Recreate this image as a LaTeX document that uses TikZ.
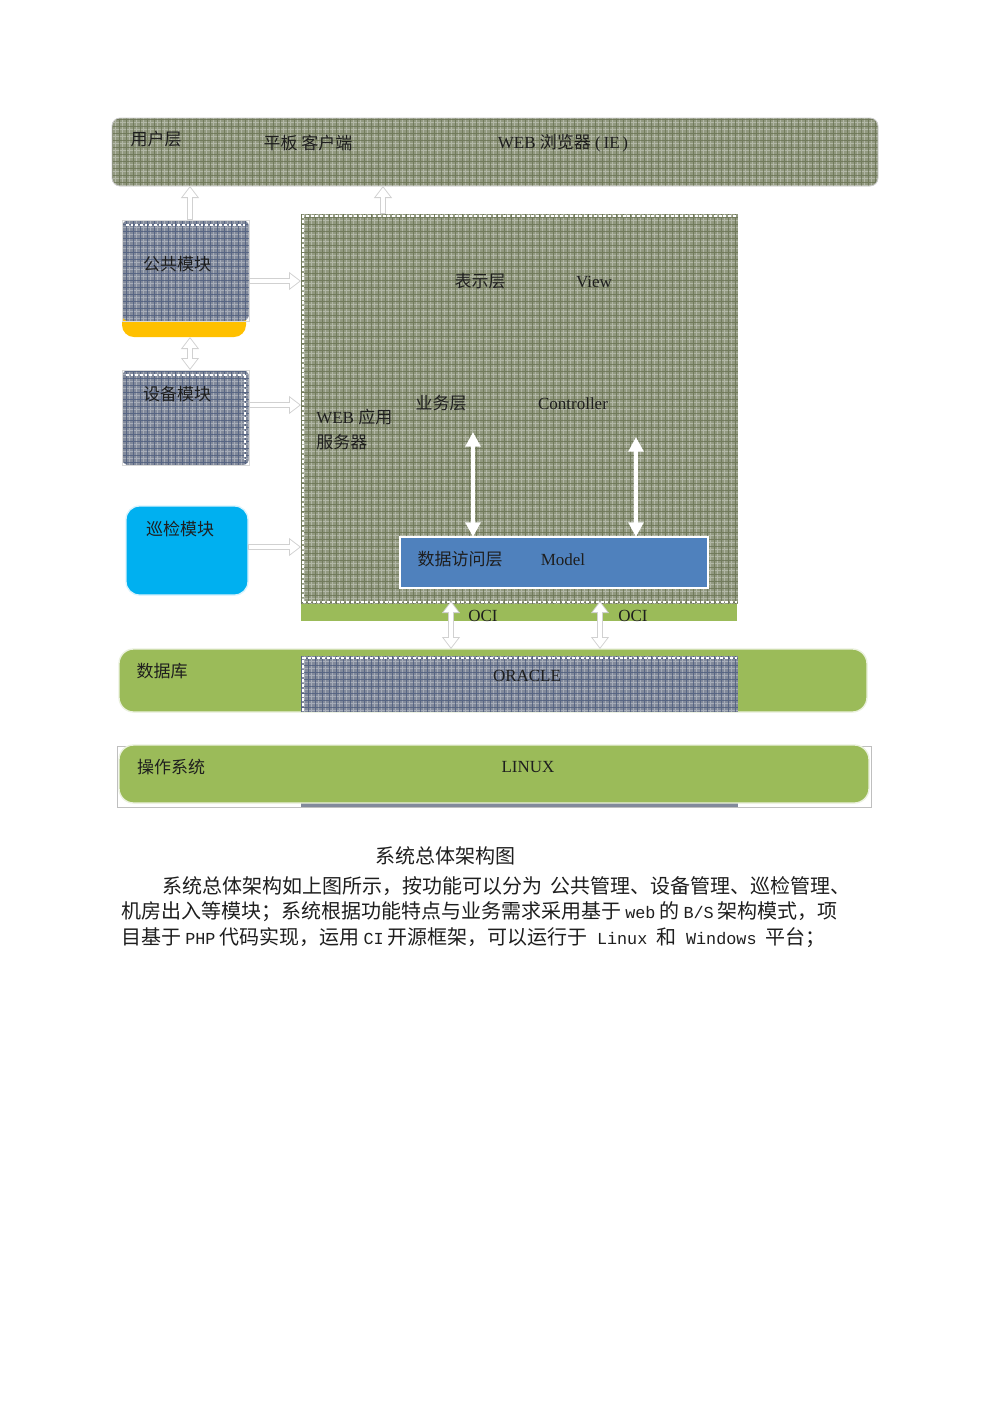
\documentclass[tikz,border=0pt]{standalone}
\usepackage{fontspec}
\setmainfont{Liberation Serif}
\newfontfamily\cjk{Noto Sans CJK SC}
\newfontfamily\lat{Liberation Mono}[Scale=0.84]
\usetikzlibrary{arrows.meta,calc}
\definecolor{olivebase}{RGB}{146,153,128}
\definecolor{olivedark}{RGB}{100,110,76}
\definecolor{bluebase}{RGB}{130,138,155}
\definecolor{bluedark}{RGB}{70,86,122}
\definecolor{leaf}{RGB}{155,187,89}
\definecolor{sky}{RGB}{0,176,240}
\definecolor{amber}{RGB}{255,192,0}
\definecolor{steel}{RGB}{79,129,189}
\definecolor{ink}{RGB}{30,30,30}
\newcommand\texture[4]{%
  \begin{scope}
    \clip[rounded corners=#4] (#1.south west) rectangle (#1.north east);
    \draw[white, line width=0.5pt, opacity=0.3, xstep=#3*0.75pt, ystep=#3*0.75pt, shift={(#3*0.375pt,#3*0.375pt)}] (#1.south west) grid (#1.north east);
    \draw[#2, line width=0.35pt, opacity=0.7, xstep=#3*0.75pt, ystep=#3*0.75pt] (#1.south west) grid (#1.north east);
  \end{scope}}
\tikzset{
  box/.style={draw=none, inner sep=0, outer sep=0},
  lbl/.style={font=\fontsize{12.75}{18.75}\selectfont, inner sep=0, text=ink},
  para/.style={font=\cjk\fontsize{15}{18}\selectfont, inner sep=0, text=ink, anchor=west},
  hol/.style={line width=5pt, draw=black!18, -{Triangle[length=9pt,width=13pt]}},
  holin/.style={line width=3.4pt, draw=white, -{Triangle[length=7pt,width=10pt]}, shorten >=1.1pt, shorten <=0.8pt},
  holtwo/.style={line width=5pt, draw=black!18, {Triangle[length=9pt,width=13pt]}-{Triangle[length=9pt,width=13pt]}},
  holtwoin/.style={line width=3.4pt, draw=white, {Triangle[length=7pt,width=10pt]}-{Triangle[length=7pt,width=10pt]}, shorten >=1.1pt, shorten <=1.1pt},
  warrow/.style={line width=3.6pt, draw=white, {Triangle[length=11pt,width=11pt]}-{Triangle[length=11pt,width=11pt]}},
  wdots/.style={draw=white, line width=1.6pt, dash pattern=on 2.2pt off 1.4pt},
}
\begin{document}
\begin{tikzpicture}[x=0.75pt,y=-0.75pt]
\useasboundingbox[fill=white] (0,0) rectangle (1000,1415);

% ---------- user layer ----------
\node[box, fill=olivebase, rounded corners=6pt, minimum width=766*0.75pt, minimum height=68*0.75pt] (user) at (495,152) {};
\texture{user}{olivedark}{7}{6pt}
\draw[black!20, line width=0.6pt, rounded corners=6pt] (user.south west) rectangle (user.north east);
\node[lbl] (tuser) at (156,139) {\cjk 用户层};
\node[lbl] (tpad) at (308,143) {\cjk 平板 客户端};
\node[lbl] (tbrowser) at (563,143) {WEB {\cjk 浏览器} (\,IE\,)};

% ---------- web server ----------
\node[box, fill=leaf, minimum width=436*0.75pt, minimum height=17*0.75pt] (strip) at (519,612.5) {};
\node[box, fill=olivebase, minimum width=437*0.75pt, minimum height=390*0.75pt] (srv) at (519.5,409) {};
\texture{srv}{olivedark}{7}{0pt}
\draw[wdots] ($(srv.south west)+(2,-2)$) -- ($(srv.north west)+(2,2)$) -- ($(srv.north east)+(-1,2)$);
\draw[wdots] ($(srv.south west)+(2,-2)$) -- ($(srv.south east)+(-1,-2)$);
\node[lbl] (tview) at (480,281) {\cjk 表示层};
\node[lbl] (tview2) at (594,282) {View};
\node[lbl] (tbiz) at (441,403) {\cjk 业务层};
\node[lbl] (tctrl) at (573,404) {Controller};
\node[lbl, anchor=north west, align=left] (tweb) at (316,409) {WEB {\cjk 应用}\\{\cjk 服务器}};

\node[box, fill=steel, draw=white, line width=1.5pt, minimum width=308*0.75pt, minimum height=51*0.75pt] (model) at (554,562.5) {};
\node[lbl] (tdal) at (460,559) {\cjk 数据访问层};
\node[lbl] (tmodel) at (563,560) {Model};

\coordinate (c1) at (473,432);
\coordinate (c2) at (636,437);
\draw[warrow] (c1) -- (c1 |- model.north);
\draw[warrow] (c2) -- (c2 |- model.north);

% ---------- modules ----------
\node[box, fill=amber, rounded corners=9pt, minimum width=124*0.75pt, minimum height=37*0.75pt] (pubbase) at (184,318.5) {};
\node[box, fill=bluebase, rounded corners=5pt, minimum width=127*0.75pt, minimum height=101*0.75pt] (pub) at (185.5,270.5) {};
\texture{pub}{bluedark}{7}{5pt}
\draw[white, line width=0.8pt, dash pattern=on 2pt off 1.5pt] ($(pub.north west)+(4,5)$) -- ($(pub.north east)+(-4,5)$);
\draw[black!15, line width=0.5pt] (pub.south west) rectangle (pub.north east);
\node[lbl] (tpub) at (177,264) {\cjk 公共模块};

\node[box, fill=bluebase, rounded corners=5pt, minimum width=127*0.75pt, minimum height=95*0.75pt] (dev) at (185.5,417.5) {};
\texture{dev}{bluedark}{7}{5pt}
\draw[white, line width=0.8pt, dash pattern=on 2pt off 1.5pt] ($(dev.north west)+(4,5)$) -- ($(dev.north east)+(-4,5)$);
\draw[white, line width=0.8pt, dash pattern=on 2pt off 1.5pt] ($(dev.north east)+(-4,5)$) -- ($(dev.south east)+(-4,-5)$);
\draw[black!15, line width=0.5pt] (dev.south west) rectangle (dev.north east);
\node[lbl] (tdev) at (177,394) {\cjk 设备模块};

\node[box, fill=sky, draw=white!85!sky, line width=1pt, rounded corners=10pt, minimum width=122*0.75pt, minimum height=89*0.75pt] (insp) at (187,550.5) {};
\node[lbl] (tinsp) at (180,529) {\cjk 巡检模块};

% hollow arrows
\coordinate (u1) at (190,0);
\coordinate (u2) at (383,0);
\draw[hol] (u1 |- pub.north) -- (u1 |- user.south);
\draw[holin] (u1 |- pub.north) -- (u1 |- user.south);
\draw[hol] (u2 |- srv.north) -- (u2 |- user.south);
\draw[holin] (u2 |- srv.north) -- (u2 |- user.south);
\draw[holtwo] (u1 |- pubbase.south) -- (u1 |- dev.north);
\draw[holtwoin] (u1 |- pubbase.south) -- (u1 |- dev.north);

\coordinate (r1) at (0,281);
\coordinate (r2) at (0,405);
\coordinate (r3) at (0,547);
\draw[hol] (pub.east |- r1) -- (srv.west |- r1);
\draw[holin] (pub.east |- r1) -- (srv.west |- r1);
\draw[hol] (dev.east |- r2) -- (srv.west |- r2);
\draw[holin] (dev.east |- r2) -- (srv.west |- r2);
\draw[hol] (insp.east |- r3) -- (srv.west |- r3);
\draw[holin] (insp.east |- r3) -- (srv.west |- r3);

% ---------- database ----------
\node[box, fill=leaf, draw=white!80!leaf, line width=1pt, rounded corners=11pt, minimum width=748*0.75pt, minimum height=63*0.75pt] (db) at (493,680.5) {};
\node[box, fill=bluebase, minimum width=437*0.75pt, minimum height=56*0.75pt] (ora) at (519.5,684) {};
\texture{ora}{bluedark}{7}{0pt}
\draw[wdots] ($(ora.south west)+(2,-1)$) -- ($(ora.north west)+(2,2)$) -- ($(ora.north east)+(-1,2)$);
\node[lbl] (tdb) at (162,671) {\cjk 数据库};
\node[lbl] (tora) at (527,676) {ORACLE};

% OCI arrows
\coordinate (o1) at (451,0);
\coordinate (o2) at (600,0);
\draw[holtwo] (o1 |- db.north) -- ($(o1 |- srv.south)+(0,-3)$);
\draw[holtwoin] (o1 |- db.north) -- ($(o1 |- srv.south)+(0,-3)$);
\draw[holtwo] (o2 |- db.north) -- ($(o2 |- srv.south)+(0,-3)$);
\draw[holtwoin] (o2 |- db.north) -- ($(o2 |- srv.south)+(0,-3)$);
\node[lbl] (toci1) at (483,616) {OCI};
\node[lbl] (toci2) at (633,616) {OCI};

% ---------- operating system ----------
\node[box, draw=black!25, line width=0.6pt, minimum width=754*0.75pt, minimum height=61*0.75pt] (osbg) at (494,776.5) {};
\node[box, fill=bluebase, minimum width=437*0.75pt, minimum height=7*0.75pt] (osstrip) at (519.5,803) {};
\node[box, fill=leaf, draw=white!80!leaf, line width=1pt, rounded corners=11pt, minimum width=750*0.75pt, minimum height=58*0.75pt] (os) at (494,774) {};
\node[lbl] (tos) at (171,767) {\cjk 操作系统};
\node[lbl] (tlinux) at (528,767) {LINUX};

% ---------- caption and text ----------
\node[para, anchor=center] (cap) at (445,856) {系统总体架构图};
\node[para] (p1) at (162,886) {系统总体架构如上图所示，按功能可以分为\hspace{6pt}公共管理、设备管理、巡检管理、};
\node[para] (p2) at (121,912) {机房出入等模块；系统根据功能特点与业务需求采用基于\hspace{3pt}{\lat web}\hspace{3pt}的\hspace{3pt}{\lat B/S}\hspace{3pt}架构模式，项};
\node[para] (p3) at (121,938) {目基于\hspace{3pt}{\lat PHP}\hspace{3pt}代码实现，运用\hspace{3pt}{\lat CI}\hspace{3pt}开源框架，可以运行于\hspace{7pt}{\lat Linux}\hspace{7pt}和\hspace{7pt}{\lat Windows}\hspace{7pt}平台；};
\end{tikzpicture}
\end{document}
